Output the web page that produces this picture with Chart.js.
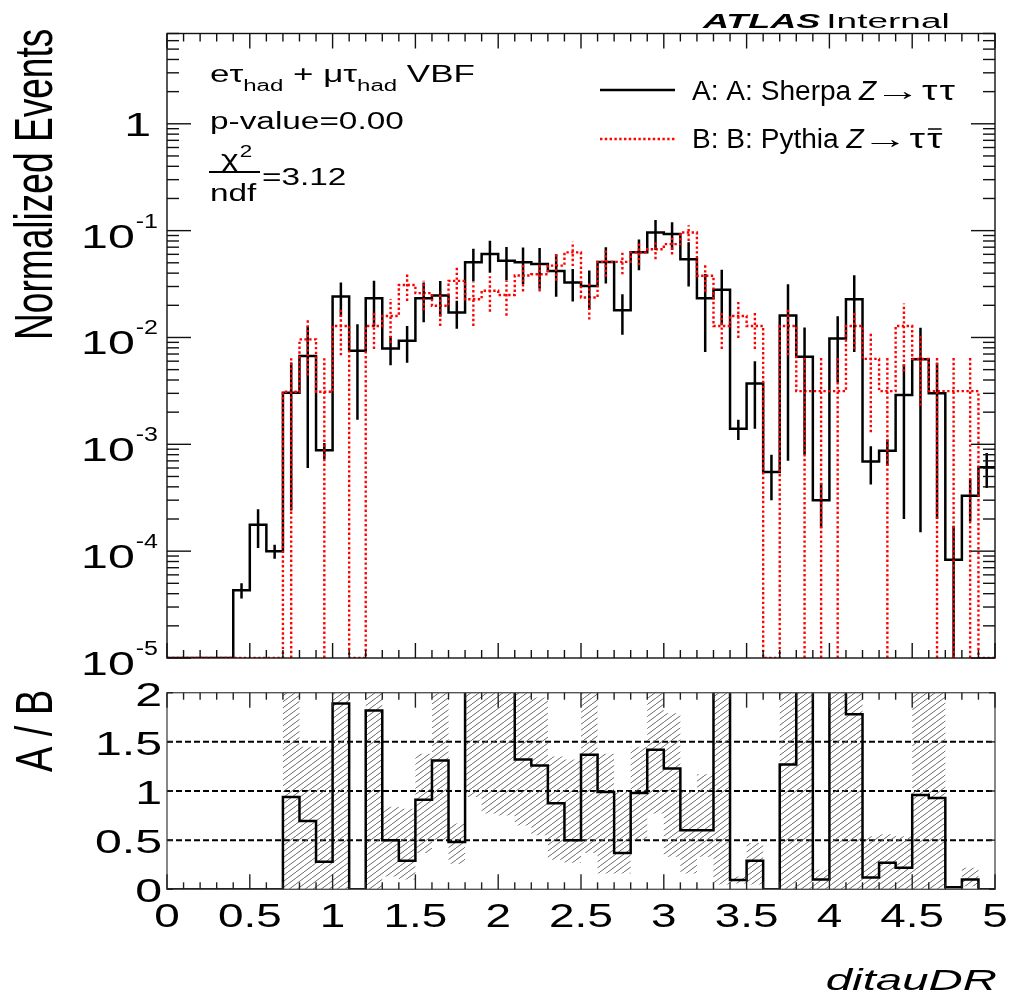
<!DOCTYPE html>
<html>
<head>
<meta charset="utf-8">
<title>ditauDR</title>
<script src="https://cdn.jsdelivr.net/npm/chart.js@4.4.1/dist/chart.umd.min.js"></script>
<style>
  html, body { margin: 0; padding: 0; background: #fff; }
  #wrap { position: relative; width: 1009px; height: 998px; }
  canvas { position: absolute; left: 0; }
  #top { top: 0; }
  #bottom { top: 680px; }
</style>
</head>
<body>
<div id="wrap">
  <canvas id="top" width="1009" height="680"></canvas>
  <canvas id="bottom" width="1009" height="318"></canvas>
</div>
<script>
// 50 bins of 0.1 in ditauDR
const binEdges = [];
for (let i = 0; i <= 50; i++) binEdges.push(i / 10);
const binCenters = binEdges.slice(0, 50).map((e) => e + 0.05);

const seriesA = "A: A: Sherpa";
const seriesB = "B: B: Pythia";

const sherpaA = [
    0, 0, 0, 0, 4.3e-5, 1.77e-4, 1.0e-4, 3.04e-3, 6.7e-3, 8.8e-4,
    0.0242, 7.5e-3, 0.0233, 7.9e-3, 9.3e-3, 0.0233, 0.0247, 0.0171, 0.0505, 0.0603,
    0.0522, 0.0505, 0.0486, 0.042, 0.0327, 0.0304, 0.051, 0.018, 0.0626, 0.096,
    0.093, 0.054, 0.0233, 0.028, 1.4e-3, 3.7e-3, 5.5e-4, 0.0161, 6.6e-3, 3.0e-4,
    9.8e-3, 0.0228, 6.9e-4, 8.7e-4, 2.9e-3, 6.25e-3, 3.0e-3, 8.3e-5, 3.3e-4, 6.1e-4,
];
const sherpaErr = [
    0, 0, 0, 0, 0.7e-5, 0.7e-4, 0.15e-4, 2.8e-3, 6.1e-3, 1.5e-4,
    8.5e-3, 5.8e-3, 0.0106, 2.4e-3, 3.5e-3, 9.4e-3, 9e-3, 5e-3, 0.017, 0.02,
    0.018, 0.019, 0.02, 0.018, 0.011, 0.012, 0.019, 7.4e-3, 0.02, 0.03,
    0.027, 0.024, 0.016, 0.015, 3e-4, 2.3e-3, 2.5e-4, 0.0154, 5.8e-3, 1.35e-4,
    6e-3, 0.0155, 2.7e-4, 2.4e-4, 2.7e-3, 6.1e-3, 2.8e-3, 9e-5, 1.4e-4, 2.2e-4,
];
const pythiaB = [
    0, 0, 0, 0, 0, 0, 0, 3.1e-3, 9.6e-3, 3.1e-3,
    0.0128, 0, 0.0128, 0.0159, 0.031, 0.026, 0.0198, 0.0339, 0.0228, 0.0274,
    0.025, 0.038, 0.039, 0.047, 0.0626, 0.0237, 0.051, 0.051, 0.0626, 0.067,
    0.0748, 0.096, 0.0378, 0.0128, 0.0159, 0.0128, 0, 0.0128, 3.15e-3, 3.15e-3,
    3.15e-3, 0.0128, 6.3e-3, 3.15e-3, 0.0128, 6.3e-3, 3.15e-3, 3.15e-3, 3.15e-3, 0,
];
const pythiaErr = [
    0, 0, 0, 0, 0, 0, 0, 3.3e-3, 5.2e-3, 3.3e-3,
    6e-3, 0, 5e-3, 7e-3, 9e-3, 8e-3, 7e-3, 0.011, 0.01, 0.01,
    0.009, 0.011, 0.012, 0.013, 0.016, 0.009, 0.014, 0.012, 0.015, 0.013,
    0.015, 0.016, 0.011, 5e-3, 6e-3, 5e-3, 0, 6e-3, 3.3e-3, 3.3e-3,
    3.3e-3, 5e-3, 5e-3, 3.3e-3, 8e-3, 4e-3, 3.3e-3, 3.3e-3, 3.3e-3, 0,
];
const ratioAB = [
    0, 0, 0, 0, 0, 0, 0, 0.94, 0.695, 0.28,
    1.89, 0, 1.82, 0.5, 0.29, 0.91, 1.31, 0.48, 2.2, 2.2,
    2.1, 1.32, 1.26, 0.875, 0.5, 1.37, 0.99, 0.37, 0.98, 1.42,
    1.23, 0.6, 0.6, 2.2, 0.095, 0.29, 0, 1.27, 2.1, 0.1,
    3.1, 1.78, 0.12, 0.27, 0.22, 0.96, 0.93, 0.02, 0.1, 0,
];
const ratioBandLo = [
    0, 0, 0, 0, 0, 0, 0, 0, 0, 0,
    0, 0, 0, 0.13, 0.1, 0.37, 0.5, 0.26, 0.94, 0.77,
    0.75, 0.65, 0.55, 0.3, 0.27, 0.37, 0.16, 0.16, 0.5, 0.77,
    0.33, 0.16, 0.33, 0.05, 0.06, 0.05, 0, 0, 0, 0,
    0, 0, 0, 0, 0, 0, 0, 0, 0.03, 0,
];
const ratioBandHi = [
    0, 0, 0, 0, 0, 0, 0, 2.2, 1.45, 1.45,
    2.2, 0, 2.2, 0.84, 0.82, 1.38, 2.2, 0.67, 2.2, 2.2,
    2.2, 2.1, 1.95, 1.35, 1.32, 2.2, 1.38, 1.0, 1.45, 2.2,
    1.79, 1.0, 1.17, 2.2, 0.13, 0.47, 0, 2.2, 2.2, 0.2,
    2.2, 2.2, 0.54, 0.56, 0.54, 2.2, 2.2, 0, 0.22, 0,
];

const yDecades = [1e-5, 1e-4, 1e-3, 1e-2, 1e-1, 1];
const yDecadeLabels = [["10", "-5"], ["10", "-4"], ["10", "-3"], ["10", "-2"], ["10", "-1"], ["1", ""]];
const xTicks = [0, 0.5, 1, 1.5, 2, 2.5, 3, 3.5, 4, 4.5, 5];
const xTickLabels = ["0", "0.5", "1", "1.5", "2", "2.5", "3", "3.5", "4", "4.5", "5"];
const ratioTicks = [0, 0.5, 1, 1.5, 2];
const ratioTickLabels = ["0", "0.5", "1", "1.5", "2"];
const ratioRefLines = [0.5, 1, 1.5];

const FONT = '"Liberation Sans", Arial, Helvetica, sans-serif';
const logFloor = 1e-5; // empty bins sit on the bottom of the log axis
const redDash = [2.4, 2.4];

const stepData = (values, floor) =>
    binEdges.map((x, i) => {
        const v = values[Math.min(i, values.length - 1)];
        return { x: x, y: floor && !(v > 0) ? floor : v };
    });

const measure = (ctx, s, size, sx, opt = {}) => {
    ctx.save();
    ctx.font = `${opt.style || "normal"} ${opt.weight || "normal"} ${size}px ${FONT}`;
    const w = ctx.measureText(s).width * sx;
    ctx.restore();
    return w;
};

const txt = (ctx, s, x, y, size, sx, opt = {}) => {
    const w = measure(ctx, s, size, sx, opt);
    let x0 = x;
    if (opt.align === "right") x0 = x - w;
    else if (opt.align === "center") x0 = x - w / 2;
    ctx.save();
    ctx.font = `${opt.style || "normal"} ${opt.weight || "normal"} ${size}px ${FONT}`;
    ctx.fillStyle = opt.color || "#000";
    ctx.textAlign = "left";
    ctx.textBaseline = "alphabetic";
    ctx.translate(x0, y);
    ctx.scale(sx, 1);
    ctx.fillText(s, 0, 0);
    ctx.restore();
    return w;
};

// rotated title reading bottom to top, baseline at x, starting at y
const vtxt = (ctx, s, x, y, size, sx) => {
    ctx.save();
    ctx.font = `normal normal ${size}px ${FONT}`;
    ctx.fillStyle = "#000";
    ctx.textAlign = "left";
    ctx.textBaseline = "alphabetic";
    ctx.translate(x, y);
    ctx.rotate(-Math.PI / 2);
    ctx.scale(sx, 1);
    ctx.fillText(s, 0, 0);
    ctx.restore();
};

const line = (ctx, x1, y1, x2, y2) => {
    ctx.beginPath();
    ctx.moveTo(x1, y1);
    ctx.lineTo(x2, y2);
    ctx.stroke();
};

const drawErrors = (chart, values, errs, color, dash, width) => {
    const { ctx, chartArea: a, scales: { x, y } } = chart;
    ctx.save();
    ctx.beginPath();
    ctx.rect(a.left, a.top, a.right - a.left, a.bottom - a.top);
    ctx.clip();
    ctx.strokeStyle = color;
    ctx.lineWidth = width;
    ctx.setLineDash(dash);
    values.forEach((v, i) => {
        if (!(v > 0) || !errs[i]) return;
        const px = x.getPixelForValue(binCenters[i]);
        const hi = y.getPixelForValue(v + errs[i]);
        const lo = v - errs[i] > 0 ? y.getPixelForValue(v - errs[i]) : a.bottom;
        line(ctx, px, lo, px, hi);
    });
    ctx.restore();
};

const drawXTicks = (chart, major, minor) => {
    const { ctx, chartArea: a, scales: { x } } = chart;
    binEdges.forEach((e) => {
        const px = x.getPixelForValue(e);
        const len = Math.round(e * 10) % 5 === 0 ? major : minor;
        line(ctx, px, a.bottom, px, a.bottom - len);
        line(ctx, px, a.top, px, a.top + len);
    });
};

const topPanel = {
    id: "topPanel",
    afterDatasetsDraw(chart) {
        drawErrors(chart, sherpaA, sherpaErr, "#000", [], 2.5);
        drawErrors(chart, pythiaB, pythiaErr, "#ff0000", redDash, 2.4);
    },
    afterDraw(chart) {
        const { ctx, chartArea: a, scales: { y } } = chart;
        ctx.save();
        ctx.strokeStyle = "#111";
        ctx.lineWidth = 1.4;
        ctx.strokeRect(a.left, a.top, a.right - a.left, a.bottom - a.top);
        drawXTicks(chart, 15, 8);
        for (let d = -5; d <= 0; d++) {
            for (let m = 1; m <= 9; m++) {
                const v = m * Math.pow(10, d);
                if (v > y.max) break;
                const py = y.getPixelForValue(v);
                const len = m === 1 ? 24 : 12;
                line(ctx, a.left, py, a.left + len, py);
                line(ctx, a.right, py, a.right - len, py);
            }
        }
        ctx.restore();

        // y tick labels
        yDecades.forEach((v, i) => {
            const py = y.getPixelForValue(v);
            const [base, exp] = yDecadeLabels[i];
            if (!exp) {
                txt(ctx, base, 151, py + 12, 34, 1.42, { align: "right" });
            } else {
                const we = txt(ctx, exp, 158, py - 3, 20, 1.25, { align: "right" });
                txt(ctx, base, 157 - we, py + 17, 34, 1.42, { align: "right" });
            }
        });
        vtxt(ctx, "Normalized Events", 52, 340, 53, 0.7);

        // ATLAS label
        const aw = txt(ctx, "ATLAS", 703, 28, 20, 1.8, { style: "italic", weight: "bold" });
        txt(ctx, "Internal", 703 + aw + 6, 28, 20, 1.85);

        // channel / stats text
        let tx = 210;
        tx += txt(ctx, "eτ", tx, 82, 23, 1.52);
        tx += txt(ctx, "had", tx, 91, 16, 1.5);
        tx += txt(ctx, " + μτ", tx, 82, 23, 1.52);
        tx += txt(ctx, "had", tx, 91, 16, 1.5);
        txt(ctx, " VBF", tx, 82, 23, 1.52);
        txt(ctx, "p-value=0.00", 210, 129, 23, 1.45);
        const cw = txt(ctx, "χ", 221, 167, 24, 1.4);
        txt(ctx, "2", 221 + cw + 1, 157, 16, 1.4);
        ctx.save();
        ctx.strokeStyle = "#000";
        ctx.lineWidth = 2;
        line(ctx, 209, 172, 260, 172);
        ctx.restore();
        txt(ctx, "ndf", 210, 201, 23, 1.45);
        txt(ctx, "=3.12", 262, 185, 23, 1.45);

        // legend
        ctx.save();
        ctx.strokeStyle = "#000";
        ctx.lineWidth = 2.5;
        line(ctx, 600, 90, 675, 90);
        ctx.strokeStyle = "#ff0000";
        ctx.lineWidth = 2.4;
        ctx.setLineDash(redDash);
        line(ctx, 600, 139, 675, 139);
        ctx.restore();
        [[seriesA, 100], [seriesB, 148]].forEach(([name, by], i) => {
            let lx = 692;
            lx += txt(ctx, name + " ", lx, by, 27, 1.04);
            lx += txt(ctx, "Z", lx, by, 27, 1.04, { style: "italic" });
            lx += txt(ctx, "→", lx - 2, by, 27, 1.7) - 2;
            const t1 = txt(ctx, "τ", lx + 2, by, 27, 1.45) + 4;
            const t2 = txt(ctx, "τ", lx + t1, by, 27, 1.45);
            if (i === 1) {
                ctx.save();
                ctx.strokeStyle = "#000";
                ctx.lineWidth = 1.5;
                line(ctx, lx + t1 + 1, by - 19, lx + t1 + t2 - 1, by - 19);
                ctx.restore();
            }
        });
    },
};

const bottomCanvas = document.getElementById("bottom");

const makeHatch = () => {
    const c = document.createElement("canvas");
    c.width = 8;
    c.height = 6;
    const g = c.getContext("2d");
    g.strokeStyle = "#6a6a6a";
    g.lineWidth = 1;
    g.beginPath();
    g.moveTo(0, 6);
    g.lineTo(8, 0);
    g.moveTo(-8, 6);
    g.lineTo(0, 0);
    g.moveTo(8, 6);
    g.lineTo(16, 0);
    g.stroke();
    return bottomCanvas.getContext("2d").createPattern(c, "repeat");
};

const bottomPanel = {
    id: "bottomPanel",
    beforeDatasetsDraw(chart) {
        const { ctx, chartArea: a, scales: { y } } = chart;
        ctx.save();
        ctx.strokeStyle = "#000";
        ctx.lineWidth = 2;
        ctx.setLineDash([6, 3]);
        ratioRefLines.forEach((v) => {
            const py = y.getPixelForValue(v);
            line(ctx, a.left, py, a.right, py);
        });
        ctx.restore();
    },
    afterDraw(chart) {
        const { ctx, chartArea: a, scales: { x, y } } = chart;
        ctx.save();
        ctx.strokeStyle = "#555";
        ctx.lineWidth = 1.4;
        ctx.strokeRect(a.left, a.top, a.right - a.left, a.bottom - a.top);
        ctx.strokeStyle = "#222";
        drawXTicks(chart, 15, 7);
        ratioTicks.forEach((v) => {
            const py = y.getPixelForValue(v);
            line(ctx, a.left, py, a.left + 6, py);
            line(ctx, a.right, py, a.right - 6, py);
        });
        ctx.restore();

        ratioTicks.forEach((v, i) => {
            txt(ctx, ratioTickLabels[i], 162, y.getPixelForValue(v) + 13, 34, 1.42, { align: "right" });
        });
        xTicks.forEach((v, i) => {
            txt(ctx, xTickLabels[i], x.getPixelForValue(v), 247, 34, 1.35, { align: "center" });
        });
        vtxt(ctx, "A / B", 52, 92, 52, 0.73);
        txt(ctx, "ditauDR", 997, 310, 30, 1.58, { align: "right", style: "italic" });
    },
};

const commonOptions = (padding, yScale) => ({
    responsive: false,
    animation: false,
    events: [],
    layout: { padding: padding },
    plugins: { legend: { display: false }, tooltip: { enabled: false } },
    elements: { point: { radius: 0 } },
    scales: {
        x: { type: "linear", min: 0, max: 5, display: false },
        y: yScale,
    },
});

const topChart = new Chart(document.getElementById("top"), {
    type: "line",
    data: {
        datasets: [
            {
                label: seriesB,
                data: stepData(pythiaB, logFloor),
                borderColor: "#ff0000",
                borderWidth: 2.4,
                borderDash: redDash,
                stepped: "before",
                fill: false,
            },
            {
                label: seriesA,
                data: stepData(sherpaA, logFloor),
                borderColor: "#000",
                borderWidth: 2.5,
                stepped: "before",
                fill: false,
            },
        ],
    },
    options: commonOptions(
        { left: 167, right: 14, top: 33.5, bottom: 22 },
        { type: "logarithmic", min: 1e-5, max: 7, display: false }
    ),
    plugins: [topPanel],
});

const bottomChart = new Chart(bottomCanvas, {
    type: "line",
    data: {
        datasets: [
            {
                label: "A / B",
                data: stepData(ratioAB),
                borderColor: "#000",
                borderWidth: 2.5,
                stepped: "before",
                fill: false,
            },
            {
                label: "band hi",
                data: stepData(ratioBandHi),
                borderColor: "rgba(0,0,0,0)",
                borderWidth: 0,
                stepped: "before",
                backgroundColor: makeHatch(),
                fill: "+1",
            },
            {
                label: "band lo",
                data: stepData(ratioBandLo),
                borderColor: "rgba(0,0,0,0)",
                borderWidth: 0,
                stepped: "before",
                fill: false,
            },
        ],
    },
    options: commonOptions(
        { left: 167, right: 14, top: 12.7, bottom: 108.7 },
        { type: "linear", min: 0, max: 2, display: false }
    ),
    plugins: [bottomPanel],
});
</script>
</body>
</html>
